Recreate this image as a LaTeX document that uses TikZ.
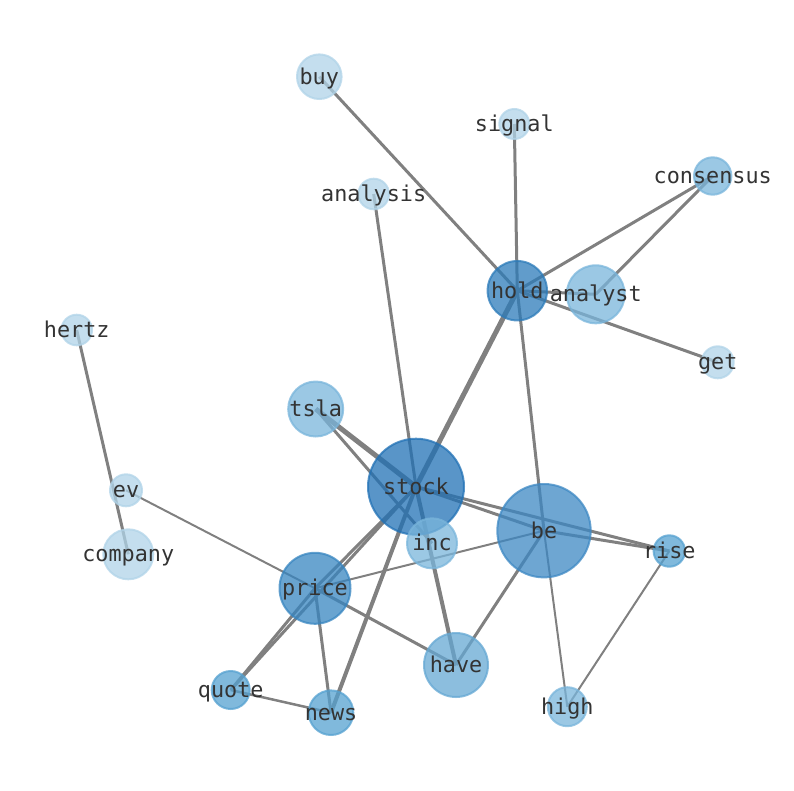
\documentclass[tikz,border=0pt]{standalone}
\usepackage{fontspec}
\setmonofont{DejaVu Sans Mono}
\pgfdeclarelayer{bg}
\pgfsetlayers{bg,main}
\definecolor{cStock}{HTML}{2171B5}
\definecolor{cHold}{HTML}{2C7BB9}
\definecolor{cBe}{HTML}{3D88C3}
\definecolor{cPrice}{HTML}{3785C0}
\definecolor{cHave}{HTML}{65A8D3}
\definecolor{cMid}{HTML}{55A1D0}
\definecolor{cLt}{HTML}{79B5DB}
\definecolor{cPale}{HTML}{B0D3E8}
\definecolor{cTxt}{HTML}{333333}
\definecolor{cEdge}{HTML}{808080}
\tikzset{
  nd/.style={circle, inner sep=0pt, outer sep=0pt, fill=#1, draw=#1, fill opacity=0.75, draw opacity=0.75, line width=2pt},
  lbl/.style={font=\ttfamily\fontsize{21.8}{26}\selectfont, text=cTxt, inner sep=0pt, anchor=center, text height=16pt, text depth=1pt},
  ed/.style={draw=cEdge, line width=#1},
  ed/.default=3pt
}
\begin{document}
\begin{tikzpicture}[x=1pt,y=-1pt]
\useasboundingbox (0,0) rectangle (794,790);
% nodes (minimum size = 2r - 2)
\node[nd=cPale, minimum size=44.6pt] (buy) at (319.3,76.7) {};
\node[nd=cPale, minimum size=30pt] (signal) at (514.3,124) {};
\node[nd=cLt, minimum size=37.4pt] (consensus) at (712.7,176) {};
\node[nd=cPale, minimum size=30.6pt] (analysis) at (373.7,194) {};
\node[nd=cLt, minimum size=58pt] (analyst) at (595.7,294.3) {};
\node[nd=cHold, minimum size=59.4pt] (hold) at (517.3,290.7) {};
\node[nd=cPale, minimum size=32pt] (get) at (717.7,362.3) {};
\node[nd=cPale, minimum size=30.6pt] (hertz) at (76.7,330) {};
\node[nd=cLt, minimum size=55pt] (tsla) at (315.7,409) {};
\node[nd=cStock, minimum size=96pt] (stock) at (416,486.7) {};
\node[nd=cPale, minimum size=32pt] (ev) at (126,490.3) {};
\node[nd=cBe, minimum size=93.4pt] (be) at (544,530.7) {};
\node[nd=cLt, minimum size=50pt] (inc) at (432,543.3) {};
\node[nd=cMid, minimum size=31.4pt] (rise) at (669.3,551) {};
\node[nd=cPale, minimum size=50pt] (company) at (128.3,554.3) {};
\node[nd=cPrice, minimum size=71pt] (price) at (315,588.3) {};
\node[nd=cHave, minimum size=64pt] (have) at (456,665) {};
\node[nd=cMid, minimum size=38pt] (quote) at (230.7,690) {};
\node[nd=cMid, minimum size=44.6pt] (news) at (331,712.7) {};
\node[nd=cLt, minimum size=39pt] (high) at (567.3,706.7) {};
% edges
\begin{pgfonlayer}{bg}
\draw[ed] (buy.center) -- (hold.center);
\draw[ed] (signal.center) -- (hold.center);
\draw[ed] (hold.center) -- (consensus.center);
\draw[ed] (consensus.center) -- (analyst.center);
\draw[ed] (hold.center) -- (analyst.center);
\draw[ed] (hold.center) -- (get.center);
\draw[ed=5pt] (hold.center) -- (stock.center);
\draw[ed] (hold.center) -- (be.center);
\draw[ed] (analysis.center) -- (stock.center);
\draw[ed] (hertz.center) -- (company.center);
\draw[ed=2pt] (ev.center) -- (price.center);
\draw[ed=5pt] (tsla.center) -- (stock.center);
\draw[ed] (tsla.center) -- (inc.center);
\draw[ed] (stock.center) -- (be.center);
\draw[ed] (stock.center) -- (rise.center);
\draw[ed] (be.center) -- (rise.center);
\draw[ed] (stock.center) -- (price.center);
\draw[ed] (price.center) -- (quote.center);
\draw[ed] (stock.center) -- (quote.center);
\draw[ed=4pt] (stock.center) -- (news.center);
\draw[ed=4pt] (stock.center) -- (have.center);
\draw[ed] (price.center) -- (news.center);
\draw[ed] (price.center) -- (have.center);
\draw[ed=2pt] (price.center) -- (be.center);
\draw[ed=2.5pt] (quote.center) -- (news.center);
\draw[ed] (have.center) -- (be.center);
\draw[ed=2pt] (be.center) -- (high.center);
\draw[ed=2pt] (rise.center) -- (high.center);
\end{pgfonlayer}
% labels
\node[lbl] (buy-l) at (buy) {buy};
\node[lbl] (signal-l) at (signal) {signal};
\node[lbl] (consensus-l) at (consensus) {consensus};
\node[lbl] (analysis-l) at (analysis) {analysis};
\node[lbl] (analyst-l) at (analyst) {analyst};
\node[lbl] (hold-l) at (hold) {hold};
\node[lbl] (get-l) at (get) {get};
\node[lbl] (hertz-l) at (hertz) {hertz};
\node[lbl] (tsla-l) at (tsla) {tsla};
\node[lbl] (stock-l) at (stock) {stock};
\node[lbl] (ev-l) at (ev) {ev};
\node[lbl] (be-l) at (be) {be};
\node[lbl] (inc-l) at (inc) {inc};
\node[lbl] (rise-l) at (rise) {rise};
\node[lbl] (company-l) at (company) {company};
\node[lbl] (price-l) at (price) {price};
\node[lbl] (have-l) at (have) {have};
\node[lbl] (quote-l) at (quote) {quote};
\node[lbl] (news-l) at (news) {news};
\node[lbl] (high-l) at (high) {high};
\end{tikzpicture}
\end{document}
